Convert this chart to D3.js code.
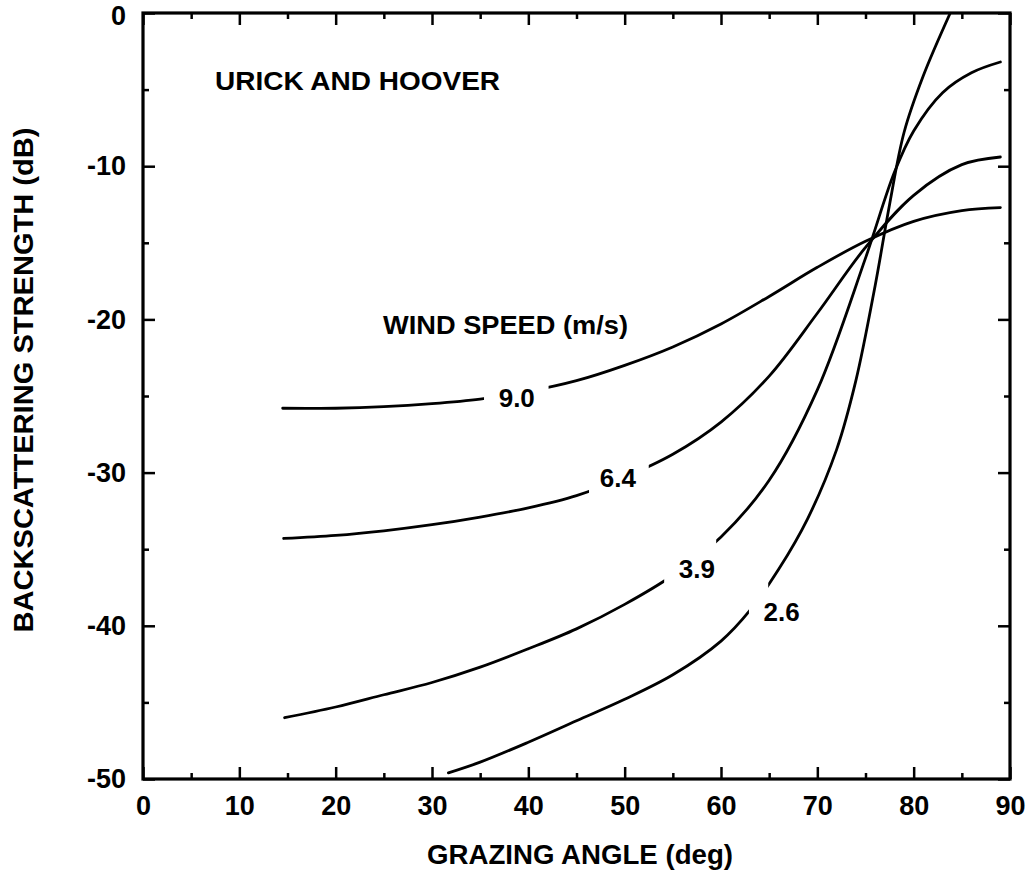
<!DOCTYPE html>
<html>
<head>
<meta charset="utf-8">
<script src="https://cdn.jsdelivr.net/npm/d3@7"></script>
<style>
  html, body { margin: 0; padding: 0; background: #fff; }
  svg { display: block; }
  text { font-family: "Liberation Sans", Arial, Helvetica, sans-serif; fill: #000; }
</style>
</head>
<body>
<svg id="chart" width="1034" height="871"></svg>
<script>
// ---- data (grazing angle in deg, backscattering strength in dB) ----
const windSpeeds = ["9.0", "6.4", "3.9", "2.6"];

const curve90 = [[14.5,-25.8],[20,-25.8],[25,-25.7],[30,-25.5],[35,-25.2],[40,-24.7],[45,-24.0],[50,-23.0],[55,-21.8],[60,-20.3],[65,-18.5],[70,-16.6],[75,-14.9],[80,-13.6],[85,-12.9],[89,-12.7]];
const curve64 = [[14.6,-34.3],[20,-34.1],[25,-33.8],[30,-33.4],[35,-32.9],[40,-32.3],[45,-31.5],[50,-30.3],[55,-28.8],[60,-26.7],[65,-23.7],[70,-19.6],[75,-15.3],[80,-11.9],[85,-9.9],[89,-9.4]];
const curve39 = [[14.7,-46.0],[20,-45.3],[25,-44.5],[30,-43.7],[35,-42.7],[40,-41.5],[45,-40.2],[50,-38.6],[55,-36.7],[60,-34.2],[65,-30.5],[70,-24.6],[75,-16.0],[78,-10.4],[80,-7.7],[83,-5.2],[86,-3.9],[89,-3.2]];
const curve26 = [[31.7,-49.6],[35,-48.9],[40,-47.6],[45,-46.2],[50,-44.8],[55,-43.2],[60,-41.0],[63,-39.0],[66,-36.3],[69,-33.0],[72,-28.5],[74,-24.0],[76,-17.8],[77.5,-12.5],[79,-7.8],[81,-4.1],[83.8,0]];
const curves = [curve90, curve64, curve39, curve26];

// label anchor (angle, dB) and the gap in each curve (angle range)
const labelAt = [[38.8,-25.1],[49.3,-30.3],[57.5,-36.3],[66.3,-39.1]];
const gapAt = [[35.4,42.1],[46.3,52.5],[54.1,59.5],[62.9,64.9]];

const xTicks = [0,10,20,30,40,50,60,70,80,90];
const yTicks = [0,-10,-20,-30,-40,-50];
const xMinor = [5,15,25,35,45,55,65,75,85];
const yMinor = [-5,-15,-25,-35,-45];

// ---- layout ----
const M = { l: 143, r: 1010, t: 13, b: 779 };
const svg = d3.select("#chart");
const x = d3.scaleLinear().domain([0, 90]).range([M.l, M.r]);
const y = d3.scaleLinear().domain([-50, 0]).range([M.b, M.t]);

const FS = 27;

// masks to break curves around labels
const defs = svg.append("defs");
curves.forEach((c, i) => {
  const m = defs.append("mask").attr("id", "gap" + i).attr("maskUnits", "userSpaceOnUse")
    .attr("x", 0).attr("y", 0).attr("width", 1034).attr("height", 871);
  m.append("rect").attr("x", 0).attr("y", 0).attr("width", 1034).attr("height", 871).attr("fill", "#fff");
  m.append("rect").attr("x", x(gapAt[i][0])).attr("y", 0)
    .attr("width", x(gapAt[i][1]) - x(gapAt[i][0])).attr("height", 871).attr("fill", "#000");
});
defs.append("clipPath").attr("id", "plotclip").append("rect")
  .attr("x", M.l).attr("y", M.t).attr("width", M.r - M.l).attr("height", M.b - M.t);

// curves
const line = d3.line().x(d => x(d[0])).y(d => y(d[1])).curve(d3.curveCatmullRom.alpha(0.5));
svg.append("g").attr("clip-path", "url(#plotclip)")
  .selectAll("path").data(curves).join("path")
  .attr("d", line)
  .attr("fill", "none")
  .attr("stroke", "#000")
  .attr("stroke-width", 2.8)
  .attr("stroke-linecap", "round")
  .attr("mask", (d, i) => `url(#gap${i})`);

// curve labels
svg.append("g").selectAll("text").data(windSpeeds).join("text")
  .attr("x", (d, i) => x(labelAt[i][0]))
  .attr("y", (d, i) => y(labelAt[i][1]))
  .attr("dy", "0.36em")
  .attr("text-anchor", "middle")
  .attr("font-size", 26)
  .attr("font-weight", "bold")
  .text(d => d);

// axes (ticks inward on all four sides)
const fmt = d => String(d);
const axB = d3.axisBottom(x).tickValues(xTicks).tickSize(-12).tickFormat(fmt).tickPadding(17);
const axT = d3.axisTop(x).tickValues(xTicks).tickSize(-12).tickFormat("");
const axL = d3.axisLeft(y).tickValues(yTicks).tickSize(-12).tickFormat(fmt).tickPadding(17);
const axR = d3.axisRight(y).tickValues(yTicks).tickSize(-12).tickFormat("");
const axBm = d3.axisBottom(x).tickValues(xMinor).tickSize(-6).tickFormat("");
const axTm = d3.axisTop(x).tickValues(xMinor).tickSize(-6).tickFormat("");
const axLm = d3.axisLeft(y).tickValues(yMinor).tickSize(-6).tickFormat("");
const axRm = d3.axisRight(y).tickValues(yMinor).tickSize(-6).tickFormat("");

function styleAxis(g) {
  g.select(".domain").remove();
  g.selectAll(".tick line").attr("stroke", "#000").attr("stroke-width", 2.5);
  g.selectAll(".tick text").attr("font-size", FS).attr("font-weight", "bold")
    .attr("font-family", "'Liberation Sans', Arial, sans-serif").attr("fill", "#000");
}
svg.append("g").attr("transform", `translate(0,${M.b})`).call(axB).call(styleAxis);
svg.append("g").attr("transform", `translate(0,${M.t})`).call(axT).call(styleAxis);
const gL = svg.append("g").attr("transform", `translate(${M.l},0)`).call(axL).call(styleAxis);
// keep the top "0" label fully inside the picture
gL.selectAll(".tick text").filter(d => d === 0).attr("dy", "0.44em");
svg.append("g").attr("transform", `translate(${M.r},0)`).call(axR).call(styleAxis);
svg.append("g").attr("transform", `translate(0,${M.b})`).call(axBm).call(styleAxis);
svg.append("g").attr("transform", `translate(0,${M.t})`).call(axTm).call(styleAxis);
svg.append("g").attr("transform", `translate(${M.l},0)`).call(axLm).call(styleAxis);
svg.append("g").attr("transform", `translate(${M.r},0)`).call(axRm).call(styleAxis);

// frame
svg.append("rect").attr("x", M.l).attr("y", M.t).attr("width", M.r - M.l).attr("height", M.b - M.t)
  .attr("fill", "none").attr("stroke", "#000").attr("stroke-width", 3.2);

// annotations
svg.append("text").attr("x", 215).attr("y", 90).attr("font-size", 26).attr("font-weight", "bold")
  .attr("textLength", 285).attr("lengthAdjust", "spacingAndGlyphs").text("URICK AND HOOVER");
svg.append("text").attr("x", 383).attr("y", 334).attr("font-size", 26).attr("font-weight", "bold")
  .attr("textLength", 245).attr("lengthAdjust", "spacingAndGlyphs").text("WIND SPEED (m/s)");

// axis titles
svg.append("text").attr("x", 580).attr("y", 864).attr("text-anchor", "middle")
  .attr("font-size", FS).attr("font-weight", "bold")
  .attr("textLength", 306).attr("lengthAdjust", "spacingAndGlyphs").text("GRAZING ANGLE (deg)");
svg.append("text").attr("transform", "translate(33,380) rotate(-90)").attr("text-anchor", "middle")
  .attr("font-size", 28).attr("font-weight", "bold")
  .attr("textLength", 505).attr("lengthAdjust", "spacingAndGlyphs").text("BACKSCATTERING STRENGTH (dB)");
</script>
</body>
</html>
